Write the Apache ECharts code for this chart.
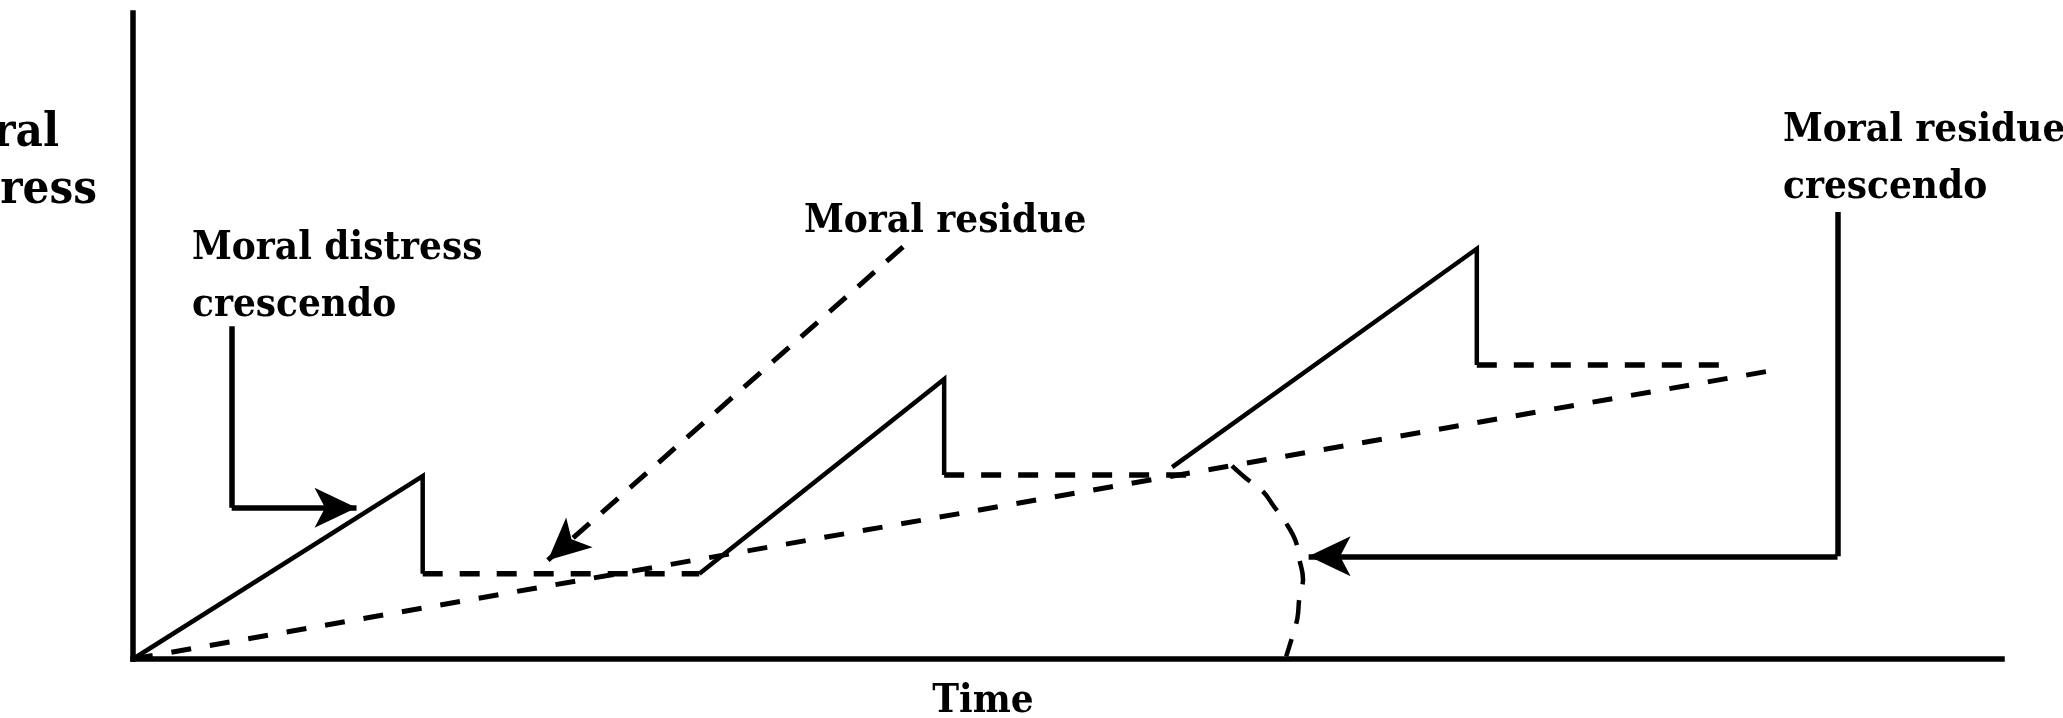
<!DOCTYPE html>
<html>
<head>
<meta charset="utf-8">
<script src="https://cdn.jsdelivr.net/npm/echarts@6/dist/echarts.min.js"></script>
<style>
html,body{margin:0;padding:0;background:#fff;}
#chart{width:2063px;height:718px;}
</style>
</head>
<body>
<div id="chart"></div>
<script>
// time (x) vs moral distress (y), both on a 0-100 scale
// sawtooth: solid rises, dashed plateaus
const rise1 = [[0, 0], [15.5, 28.3], [15.5, 13.2]];
const plateau1 = [[15.5, 13.2], [30.3, 13.2]];
const rise2 = [[30.3, 13.2], [43.4, 43.3], [43.4, 28.5]];
const plateau2 = [[43.4, 28.5], [57.1, 28.5]];
const rise3 = [[55.6, 29.7], [71.9, 63.5], [71.9, 45.5]];
const plateau3 = [[71.9, 45.5], [85.2, 45.5]];

// residue baseline and the curved line down to the time axis
const residue = [[0, 0], [87.6, 44.6]];
const residueArc = [[58.8, 29.9], [59.5, 28.1], [60.5, 25.8], [61.0, 23.8], [61.7, 21.0], [62.2, 18.3],
    [62.4, 15.5], [62.6, 12.4], [62.4, 9.3], [62.3, 6.3], [62.0, 3.2], [61.7, 0.4]];

// pointers from the labels (last point = arrow tip)
const distressStem = [[5.28, 51.5], [5.28, 23.4]];
const distressHead = [[5.28, 23.4], [11.96, 23.4]];
const residueHead = [[41.2, 63.8], [22.2, 15.3]];
const crescStem = [[91.2, 69.2], [91.2, 15.9]];
const crescHead = [[91.2, 15.9], [62.9, 15.9]];

window.addEventListener("load", function () {
    let chart = echarts.init(document.getElementById("chart"));
    const family = '"DejaVu Serif Condensed", "DejaVu Serif", serif';

    function seg(data, dashed, width) {
        return {
            type: 'line',
            data: data,
            showSymbol: false,
            symbol: 'none',
            silent: true,
            lineStyle: {color: '#000', width: width || 4.5, type: dashed || 'solid', join: 'miter', cap: 'butt'}
        };
    }
    function pointer(data, dashed, arrow) {
        return {
            type: 'lines',
            coordinateSystem: 'cartesian2d',
            silent: true,
            symbol: arrow ? ['none', 'arrow'] : ['none', 'none'],
            symbolSize: [10, [30, 42]],
            lineStyle: {color: '#000', width: dashed ? 5 : 5.5, type: dashed || 'solid', opacity: 1, curveness: 0},
            data: [{coords: data}]
        };
    }
    function label(text, x, y, align, size) {
        return {
            type: 'text', x: x, y: y, silent: true,
            style: {text: text, font: 'bold ' + (size || 40) + 'px ' + family, fill: '#000',
                align: align, textAlign: align, verticalAlign: 'middle', textVerticalAlign: 'middle'}
        };
    }

    let option = {
        backgroundColor: '#fff',
        animation: false,
        grid: {left: 133, right: 61, top: 13, bottom: 59},
        xAxis: {
            type: 'value', min: 0, max: 100,
            axisLine: {show: true, lineStyle: {color: '#000', width: 5.5, cap: 'square'}},
            axisTick: {show: false}, axisLabel: {show: false}, splitLine: {show: false}
        },
        yAxis: {
            type: 'value', min: 0, max: 100,
            axisLine: {show: true, lineStyle: {color: '#000', width: 5.5, cap: 'square'}},
            axisTick: {show: false}, axisLabel: {show: false}, splitLine: {show: false}
        },
        series: [
            seg(rise1),
            seg(plateau1, [20, 17], 5.5),
            seg(rise2),
            seg(plateau2, [20, 17], 5.5),
            seg(rise3),
            seg(plateau3, [20, 17], 5.5),
            seg(residue, [20, 19], 5),
            Object.assign(seg(residueArc, [24, 16], 4.5), {smooth: 0.4}),
            pointer(distressStem),
            pointer(distressHead, null, true),
            pointer(residueHead, [22, 16], true),
            pointer(crescStem),
            pointer(crescHead, null, true)
        ],
        graphic: [
            label('Moral', 59, 134, 'right', 47),
            label('distress', 97, 191, 'right', 47),
            label('Moral distress', 192, 249, 'left'),
            label('crescendo', 192, 306, 'left'),
            label('Moral residue', 804, 222, 'left'),
            label('Moral residue', 1783, 131, 'left'),
            label('crescendo', 1783, 188, 'left'),
            label('Time', 983, 702, 'center')
        ]
    };

    chart.setOption(option);
});
</script>
</body>
</html>
